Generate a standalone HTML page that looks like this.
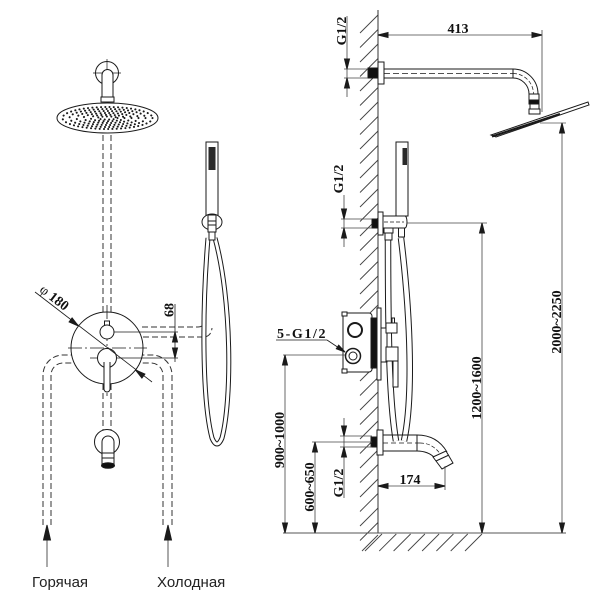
<!DOCTYPE html>
<html><head><meta charset="utf-8">
<style>
html,body{margin:0;padding:0;background:#fff;}
svg{display:block;}
.d{font-family:"Liberation Serif",serif;font-weight:bold;font-size:14px;fill:#111;stroke:none;}
.l{font-family:"Liberation Sans","DejaVu Sans",sans-serif;font-size:15px;fill:#222;stroke:none;}
</style></head><body>
<svg width="600" height="600" viewBox="0 0 600 600" xmlns="http://www.w3.org/2000/svg">
<g stroke="#1a1a1a" stroke-width="1" fill="none">

<!-- ================= LEFT VIEW ================= -->
<!-- wall mount -->
<circle cx="107" cy="73" r="11.5"/>
<line x1="93" y1="73" x2="121" y2="73" stroke-width="0.7"/>
<line x1="107" y1="59" x2="107" y2="87" stroke-width="0.7"/>
<path d="M102,102 V75 A5.5,5.5 0 0 1 113,75 V102" fill="#fff"/>
<rect x="101" y="97" width="13" height="5" fill="#fff"/>
<!-- head -->
<ellipse cx="107.5" cy="118" rx="50.5" ry="15" fill="#fff"/>
<g stroke-width="2" stroke-linecap="round" stroke-dasharray="0.1 4.2">
<ellipse cx="107.5" cy="118" rx="45" ry="11"/>
<ellipse cx="107.5" cy="118" rx="38" ry="9"/>
<ellipse cx="107.5" cy="118" rx="31" ry="7"/>
<ellipse cx="107.5" cy="118" rx="24" ry="5"/>
<ellipse cx="107.5" cy="118" rx="17" ry="3.2"/>
<ellipse cx="107.5" cy="118" rx="10" ry="1.5"/>
</g>

<!-- dashed pipes -->
<g stroke-dasharray="6 3" stroke="#333">
<line x1="103" y1="135" x2="103" y2="313"/>
<line x1="111" y1="135" x2="111" y2="313"/>
<line x1="103" y1="384" x2="103" y2="430"/>
<line x1="111" y1="384" x2="111" y2="430"/>
<path d="M43,525 V375 A20,20 0 0 1 63,355 H72"/>
<path d="M51,525 V375 A12,12 0 0 1 63,363 H72"/>
<path d="M172,525 V375 A20,20 0 0 0 152,355 H142"/>
<path d="M163,525 V375 A12,12 0 0 0 151,363 H142"/>
<path d="M142,327 H198 Q205,327 206,318"/>
<path d="M143,337 H203 Q211,337 212,328"/>
</g>

<!-- valve -->
<circle cx="107" cy="348" r="36" fill="none"/>
<g stroke-width="0.8" stroke-dasharray="14 3 2 3">
<line x1="68" y1="348" x2="147" y2="348"/>
<line x1="107" y1="305" x2="107" y2="396"/>
</g>
<line x1="107" y1="332" x2="178" y2="332" stroke-width="0.8"/>
<line x1="90" y1="358" x2="178" y2="358" stroke-width="0.8"/>
<rect x="104.5" y="321" width="5" height="6" fill="#fff"/>
<circle cx="107" cy="332" r="7" fill="#fff"/>
<circle cx="107" cy="358" r="9.5" fill="#fff"/>
<path d="M104,362 V389 A3,3 0 0 0 110,389 V362" fill="#fff"/>

<!-- dim 68 -->
<line x1="175" y1="304" x2="175" y2="362" stroke-width="0.8"/>
<polygon points="175,332 172.5,342 177.5,342" fill="#1a1a1a"/>
<polygon points="175,358 172.5,348 177.5,348" fill="#1a1a1a"/>
<text class="d" transform="translate(173.5,310) rotate(-90)" text-anchor="middle">68</text>

<!-- phi 180 -->
<line x1="35" y1="292" x2="152" y2="382" stroke-width="0.8"/>
<polygon points="78.5,326 69.1,321.9 72.1,317.9" fill="#1a1a1a"/>
<polygon points="135.5,370 141.9,378.1 144.9,374.1" fill="#1a1a1a"/>
<text class="d" transform="translate(51.6,301.2) rotate(37.6)" text-anchor="middle"><tspan font-weight="normal">φ</tspan> 180</text>

<!-- hand shower left -->
<path d="M208,238 C202,310 202,400 212,438 Q217,450 222,438 C232,400 232,300 215,238" stroke-width="5"/>
<path d="M208,238 C202,310 202,400 212,438 Q217,450 222,438 C232,400 232,300 215,238" stroke="#fff" stroke-width="3"/>
<rect x="206" y="142" width="12" height="75" fill="#fff"/>
<rect x="208.5" y="147" width="7" height="23" fill="#2a2a2a" stroke="none"/>
<ellipse cx="212" cy="222" rx="10" ry="8" fill="#fff"/>
<rect x="208" y="215" width="8" height="17" fill="#fff"/>
<line x1="208" y1="221" x2="216" y2="221"/>
<line x1="208" y1="225" x2="216" y2="225"/>
<rect x="209" y="232" width="6" height="8" fill="#fff"/>

<!-- spout left -->
<circle cx="107" cy="442" r="12.5" fill="#fff"/>
<path d="M102,465 V442 A6,6 0 0 1 114,442 V465" fill="#fff"/>
<line x1="102" y1="453" x2="114" y2="453"/>
<line x1="102" y1="458" x2="114" y2="458"/>
<ellipse cx="108" cy="465.5" rx="6.5" ry="2.8" fill="#111"/>

<!-- inlet arrows -->
<line x1="47" y1="540" x2="47" y2="567" stroke="#555"/>
<polygon points="47,525 43.5,540 50.5,540" fill="#1a1a1a"/>
<line x1="168" y1="540" x2="168" y2="567" stroke="#555"/>
<polygon points="168,525 164.5,540 171.5,540" fill="#1a1a1a"/>
<text class="l" x="32" y="587">Горячая</text>
<text class="l" x="157" y="587">Холодная</text>

<!-- ================= RIGHT VIEW ================= -->
<!-- wall hatch -->
<path stroke="#444" stroke-width="0.9" d="M360,33L378,15M360,47.5L378,29.5M360,62L378,44M360,76.5L378,58.5M360,91L378,73M360,105.5L378,87.5M360,120L378,102M360,134.5L378,116.5M360,149L378,131M360,163.5L378,145.5M360,178L378,160M360,192.5L378,174.5M360,207L378,189M360,221.5L378,203.5M360,236L378,218M360,250.5L378,232.5M360,265L378,247M360,279.5L378,261.5M360,294L378,276M360,308.5L378,290.5M360,323L378,305M360,337.5L378,319.5M360,352L378,334M360,366.5L378,348.5M360,381L378,363M360,395.5L378,377.5M360,410L378,392M360,424.5L378,406.5M360,439L378,421M360,453.5L378,435.5M360,468L378,450M360,482.5L378,464.5M360,497L378,479M360,511.5L378,493.5M360,526L378,508M360,540.5L378,522.5M362,551L378,535"/>
<!-- floor hatch -->
<path stroke="#444" stroke-width="0.9" d="M365,551L382,534M379.3,551L396.3,534M393.6,551L410.6,534M407.9,551L424.9,534M422.1,551L439.1,534M436.4,551L453.4,534M450.7,551L467.7,534M465,551L482,534"/>
<line x1="378" y1="10" x2="378" y2="533" stroke="#333"/>
<line x1="283" y1="533" x2="566" y2="533" stroke="#555"/>

<!-- shower arm -->
<rect x="368" y="68" width="10" height="10" fill="#111"/>
<rect x="378" y="62" width="6" height="22" fill="#fff"/>
<line x1="384" y1="69" x2="513" y2="69"/>
<line x1="384" y1="78" x2="513" y2="78"/>
<line x1="384" y1="73.5" x2="513" y2="73.5" stroke-dasharray="6 3" stroke-width="0.8"/>
<line x1="513" y1="69" x2="513" y2="78"/>
<path d="M513,69 A25,25 0 0 1 538,94"/>
<path d="M513,78 A16,16 0 0 1 529,94"/>
<path d="M513,73.5 A20.5,20.5 0 0 1 533.5,94" stroke-dasharray="4 2" stroke-width="0.7"/>
<rect x="529" y="94" width="10" height="6" fill="#fff"/>
<rect x="529" y="100" width="10" height="4" fill="#111"/>
<rect x="530" y="104" width="9" height="5" fill="#fff"/>
<rect x="529" y="109" width="11" height="5" fill="#fff"/>
<!-- plate -->
<polygon points="491,135 588,102 589,105 496,137" fill="#fff"/>
<line x1="492" y1="136.5" x2="560" y2="114" stroke-width="2.2"/>
<line x1="540" y1="123" x2="566" y2="123" stroke="#555" stroke-width="0.8"/>

<!-- dim 413 -->
<line x1="378" y1="35" x2="542" y2="35" stroke="#444" stroke-width="0.8"/>
<polygon points="378,35 388,32.5 388,37.5" fill="#1a1a1a"/>
<polygon points="542,35 532,32.5 532,37.5" fill="#1a1a1a"/>
<line x1="542" y1="30" x2="542" y2="112" stroke="#444" stroke-width="0.8"/>
<text class="d" x="458" y="33" text-anchor="middle">413</text>

<!-- G1/2 top -->
<line x1="347" y1="16" x2="347" y2="97" stroke="#444" stroke-width="0.8"/>
<line x1="344" y1="69" x2="368" y2="69" stroke="#444" stroke-width="0.8"/>
<line x1="344" y1="78" x2="368" y2="78" stroke="#444" stroke-width="0.8"/>
<polygon points="347,69 344.5,59 349.5,59" fill="#1a1a1a"/>
<polygon points="347,78 344.5,88 349.5,88" fill="#1a1a1a"/>
<text class="d" transform="translate(346,31) rotate(-90)" text-anchor="middle">G1/2</text>

<!-- dim 2000~2250 -->
<line x1="562" y1="123" x2="562" y2="533" stroke="#444" stroke-width="0.8"/>
<polygon points="562,123 559.5,133 564.5,133" fill="#1a1a1a"/>
<polygon points="562,533 559.5,523 564.5,523" fill="#1a1a1a"/>
<text class="d" transform="translate(561,322) rotate(-90)" text-anchor="middle">2000~2250</text>

<!-- hand shower right: hoses -->
<path d="M388,238 C388,330 389,400 396,441" stroke-width="6.5"/>
<path d="M388,238 C388,330 389,400 396,441" stroke="#fff" stroke-width="4.5"/>
<path d="M401,238 C411,320 413,400 404,441" stroke-width="6.5"/>
<path d="M401,238 C411,320 413,400 404,441" stroke="#fff" stroke-width="4.5"/>

<rect x="372" y="219" width="6" height="9" fill="#111"/>
<rect x="378" y="212" width="5" height="23" fill="#fff"/>
<path d="M383,216 H405 A2,6 0 0 1 405,228 H383 Z" fill="#fff"/>
<line x1="384" y1="222" x2="404" y2="222" stroke-dasharray="4 2" stroke-width="0.7"/>
<rect x="396" y="142" width="12" height="74" fill="#fff"/>
<rect x="402.5" y="148" width="4.5" height="17" fill="#2a2a2a" stroke="none"/>
<rect x="384" y="228" width="9" height="5" fill="#fff"/>
<rect x="385" y="233" width="7" height="7" fill="#fff"/>
<rect x="398.5" y="228" width="6" height="9" fill="#fff"/>

<!-- dim 1200~1600 -->
<line x1="407" y1="223" x2="487" y2="223" stroke="#444" stroke-width="0.8"/>
<line x1="482" y1="223" x2="482" y2="533" stroke="#444" stroke-width="0.8"/>
<polygon points="482,223 479.5,233 484.5,233" fill="#1a1a1a"/>
<polygon points="482,533 479.5,523 484.5,523" fill="#1a1a1a"/>
<text class="d" transform="translate(481,388) rotate(-90)" text-anchor="middle">1200~1600</text>

<!-- G1/2 mid -->
<line x1="344" y1="195" x2="344" y2="247" stroke="#444" stroke-width="0.8"/>
<line x1="341" y1="219" x2="372" y2="219" stroke="#444" stroke-width="0.8"/>
<line x1="341" y1="228" x2="372" y2="228" stroke="#444" stroke-width="0.8"/>
<polygon points="344,219 341.5,209 346.5,209" fill="#1a1a1a"/>
<polygon points="344,228 341.5,238 346.5,238" fill="#1a1a1a"/>
<text class="d" transform="translate(343,179) rotate(-90)" text-anchor="middle">G1/2</text>

<!-- valve right -->
<rect x="343" y="313" width="29" height="59" rx="3" fill="#fff"/>
<rect x="342" y="312" width="5" height="4" fill="#fff"/>
<rect x="342" y="369" width="5" height="4" fill="#fff"/>
<circle cx="355" cy="330" r="7" stroke-width="2"/>
<circle cx="353" cy="356" r="7.5" stroke-width="1.5"/>
<circle cx="353" cy="356" r="4"/>
<rect x="371" y="318" width="6" height="50" fill="#111"/>
<rect x="377" y="308" width="4" height="72" fill="#fff"/>
<rect x="381" y="328" width="6" height="34" fill="#fff"/>
<rect x="392" y="318" width="2.5" height="5" fill="#fff"/>
<rect x="386" y="323" width="11" height="10" fill="#fff"/>
<rect x="386" y="347" width="12" height="14" fill="#fff"/>
<rect x="393" y="361" width="5" height="26" fill="#fff"/>

<!-- 5-G1/2 label -->
<line x1="276" y1="340" x2="327" y2="340" stroke-width="0.8"/>
<line x1="327" y1="340" x2="345" y2="352" stroke-width="0.8"/>
<polygon points="345,352 336.3,348.8 338.7,345.2" fill="#1a1a1a"/>
<text class="d" x="277" y="338" letter-spacing="1.6">5-G1/2</text>

<!-- dim 900~1000 -->
<line x1="283" y1="355" x2="345" y2="355" stroke="#444" stroke-width="0.8"/>
<line x1="285" y1="355" x2="285" y2="533" stroke="#444" stroke-width="0.8"/>
<polygon points="285,355 282.5,365 287.5,365" fill="#1a1a1a"/>
<polygon points="285,533 282.5,523 287.5,523" fill="#1a1a1a"/>
<text class="d" transform="translate(284,440) rotate(-90)" text-anchor="middle">900~1000</text>

<!-- spout right -->
<rect x="371" y="437" width="6" height="10" fill="#111"/>
<rect x="377" y="430" width="6" height="25" fill="#fff"/>
<line x1="383" y1="435" x2="417" y2="435"/>
<line x1="383" y1="451" x2="417" y2="451"/>
<line x1="383" y1="443" x2="420" y2="443" stroke-dasharray="5 3" stroke-width="0.8"/>
<line x1="417" y1="435" x2="417" y2="451"/>
<path d="M417,435 Q437,435 447,452"/>
<path d="M417,451 Q428,451 435,458"/>
<path d="M420,443 Q433,443 441,455" stroke-dasharray="4 2" stroke-width="0.7"/>
<polygon points="433,457 446,451 453,463 442,469" fill="#fff"/>
<line x1="436" y1="461" x2="449" y2="455"/>

<!-- dim 600~650 -->
<line x1="312" y1="442" x2="372" y2="442" stroke="#444" stroke-width="0.8"/>
<line x1="315" y1="442" x2="315" y2="533" stroke="#444" stroke-width="0.8"/>
<polygon points="315,442 312.5,452 317.5,452" fill="#1a1a1a"/>
<polygon points="315,533 312.5,523 317.5,523" fill="#1a1a1a"/>
<text class="d" transform="translate(314,487) rotate(-90)" text-anchor="middle">600~650</text>

<!-- G1/2 bottom -->
<line x1="344" y1="418" x2="344" y2="498" stroke="#444" stroke-width="0.8"/>
<line x1="340" y1="436" x2="372" y2="436" stroke="#444" stroke-width="0.8"/>
<line x1="340" y1="447" x2="372" y2="447" stroke="#444" stroke-width="0.8"/>
<polygon points="344,436 341.5,426 346.5,426" fill="#1a1a1a"/>
<polygon points="344,447 341.5,457 346.5,457" fill="#1a1a1a"/>
<text class="d" transform="translate(343,483) rotate(-90)" text-anchor="middle">G1/2</text>

<!-- dim 174 -->
<line x1="378" y1="486" x2="445" y2="486" stroke="#444" stroke-width="0.8"/>
<line x1="445" y1="466" x2="445" y2="490" stroke="#444" stroke-width="0.8"/>
<polygon points="378,486 388,483.5 388,488.5" fill="#1a1a1a"/>
<polygon points="445,486 435,483.5 435,488.5" fill="#1a1a1a"/>
<text class="d" x="410" y="484" text-anchor="middle">174</text>
</g>
</svg>
</body></html>
